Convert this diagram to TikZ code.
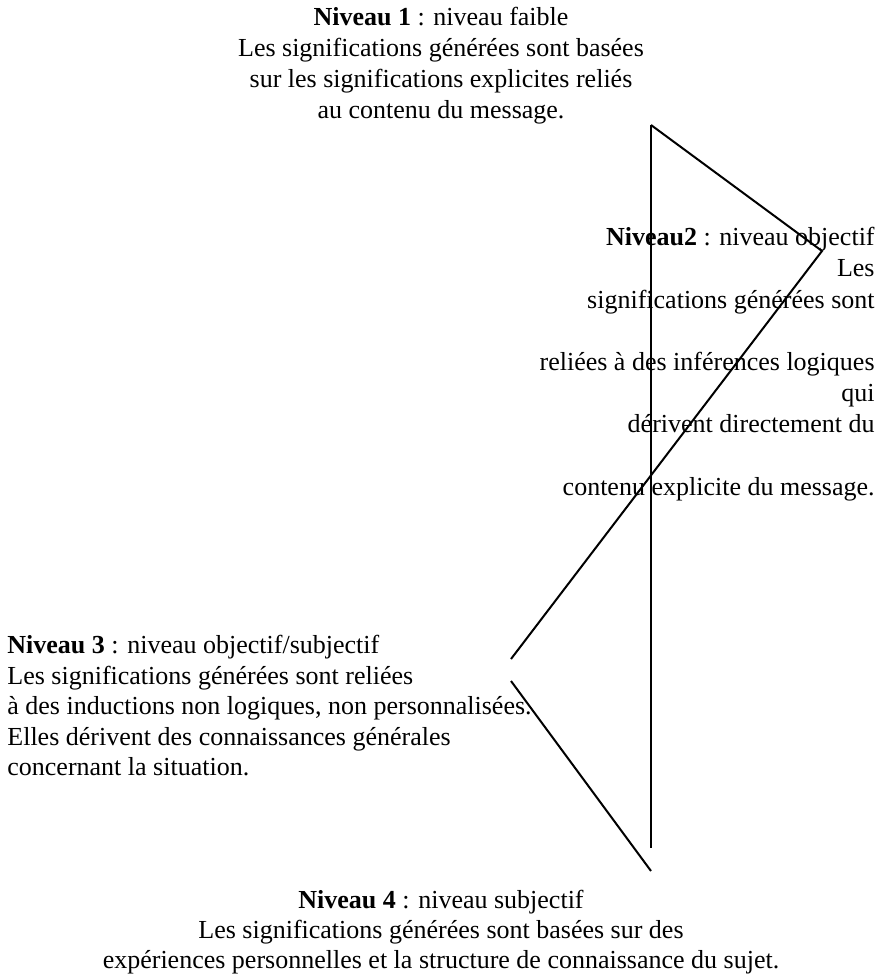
\documentclass[tikz,border=0pt]{standalone}
\usepackage{fontspec}
\setmainfont{Liberation Serif}
\usepackage{tikz}
\tikzstyle{niveau} = [inner sep=0pt, font=\fontsize{13}{15.5}\selectfont]
\tikzstyle{trait} = [line width=1pt]

\begin{document}
\begin{tikzpicture}[x=0.5pt, y=-0.5pt]
  \useasboundingbox (0,0) rectangle (880,979);

  \node (n1) [niveau, align=center, anchor=north] at (441,7) {\textbf{Niveau 1} : niveau faible\\
    Les significations générées sont basées\\
    sur les significations explicites reliés\\
    au contenu du message.};
  \node (n2) [niveau, font=\fontsize{13}{15.6}\selectfont, align=right, anchor=north east] at (875,227) {\textbf{Niveau2} : niveau objectif\\
    Les\\
    significations générées sont\\[15.6pt]
    reliées à des inférences logiques\\
    qui\\
    dérivent directement du\\[15.6pt]
    contenu explicite du message.};
  \node (n3) [niveau, font=\fontsize{13}{15.25}\selectfont, align=left, anchor=north west] at (7,635) {\textbf{Niveau 3} : niveau objectif/subjectif\\
    Les significations générées sont reliées\\
    à des inductions non logiques, non personnalisées.\\
    Elles dérivent des connaissances générales\\
    concernant la situation.};
  \node (n4) [niveau, font=\fontsize{13}{15}\selectfont, align=center, anchor=north] at (441,890) {\textbf{Niveau 4} : niveau subjectif\\
    Les significations générées sont basées sur des\\
    expériences personnelles et la structure de connaissance du sujet.};

  % sommets de la figure
  \coordinate (haut) at (651,125);
  \coordinate (pointe) at (822,251);
  \coordinate (gauche1) at (511,659);
  \coordinate (gauche2) at (511,681);
  \coordinate (bas) at (651,871);
  \coordinate (axe) at (651,848);

  \draw [trait] (haut) -- (axe);
  \draw [trait] (haut) -- (pointe) -- (gauche1);
  \draw [trait] (gauche2) -- (bas);
\end{tikzpicture}
\end{document}
